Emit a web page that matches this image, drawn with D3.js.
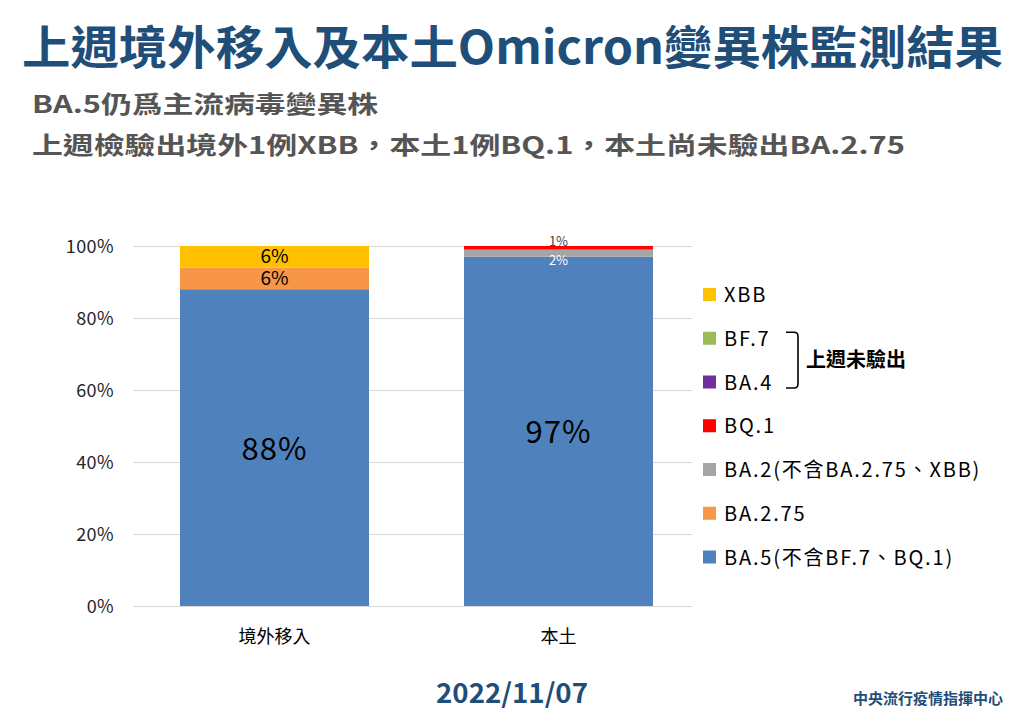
<!DOCTYPE html>
<html>
<head>
<meta charset="utf-8">
<script src="https://cdn.jsdelivr.net/npm/d3@7"></script>
<style>
  html, body { margin: 0; padding: 0; background: #fff; }
  svg { display: block; font-family: "Noto Sans CJK TC", "Noto Sans", sans-serif; }
</style>
</head>
<body>
<svg id="chart" width="1024" height="725"></svg>
<script>
// chart data
const categories = ['境外移入', '本土'];
const seriesNames = ['BA.5(不含BF.7、BQ.1)', 'BA.2.75', 'BA.2(不含BA.2.75、XBB)', 'BQ.1', 'BA.4', 'BF.7', 'XBB'];
const seriesColors = ['#4f81bd', '#f79646', '#a5a5a5', '#ff0000', '#7030a0', '#9bbb59', '#ffc000'];
const ba5 = [88, 97];
const ba275 = [6, 0];
const ba2 = [0, 2];
const bq1 = [0, 1];
const ba4 = [0, 0];
const bf7 = [0, 0];
const xbb = [6, 0];
const yTicks = [0, 20, 40, 60, 80, 100];
const yTickLabels = ['0%', '20%', '40%', '60%', '80%', '100%'];
// legend is listed top to bottom
const legendOrder = ['XBB', 'BF.7', 'BA.4', 'BQ.1', 'BA.2(不含BA.2.75、XBB)', 'BA.2.75', 'BA.5(不含BF.7、BQ.1)'];

const values = [ba5, ba275, ba2, bq1, ba4, bf7, xbb];
const rows = categories.map((c, i) => {
  const r = { cat: c };
  seriesNames.forEach((s, k) => { r[s] = values[k][i]; });
  return r;
});

const svg = d3.select('#chart');
const plot = { left: 133, right: 692, top: 246, bottom: 606 };

const x = d3.scaleBand().domain(categories).range([132.5, 700.5])
  .paddingInner(0.3345).paddingOuter(0.1673);
const y = d3.scaleLinear().domain([0, 100]).range([plot.bottom, plot.top]);

// titles
svg.append('text').attr('x', 22).attr('y', 64)
  .attr('font-size', 46).attr('font-weight', 700).attr('fill', '#1f4e79')
  .attr('textLength', 981).attr('lengthAdjust', 'spacingAndGlyphs')
  .text('上週境外移入及本土Omicron變異株監測結果');
svg.append('text').attr('x', 32).attr('y', 113)
  .attr('font-size', 24).attr('font-weight', 700).attr('fill', '#555555')
  .attr('textLength', 346).attr('lengthAdjust', 'spacingAndGlyphs')
  .text('BA.5仍爲主流病毒變異株');
svg.append('text').attr('x', 32).attr('y', 154)
  .attr('font-size', 24).attr('font-weight', 700).attr('fill', '#555555')
  .attr('textLength', 873).attr('lengthAdjust', 'spacingAndGlyphs')
  .text('上週檢驗出境外1例XBB，本土1例BQ.1，本土尚未驗出BA.2.75');

// gridlines
svg.append('g').selectAll('line').data(yTicks).join('line')
  .attr('x1', plot.left).attr('x2', plot.right)
  .attr('y1', (d) => y(d) + 0.5).attr('y2', (d) => y(d) + 0.5)
  .attr('stroke', '#d9d9d9').attr('stroke-width', 1);

// y axis labels
svg.append('g').selectAll('text').data(yTicks).join('text')
  .attr('x', 114).attr('y', (d) => y(d) + 6.5)
  .attr('text-anchor', 'end').attr('font-size', 18).attr('fill', '#262626')
  .attr('letter-spacing', 0.4)
  .text((d, i) => yTickLabels[i]);

// stacked bars
const stacked = d3.stack().keys(seriesNames)(rows);
const layer = svg.append('g').selectAll('g').data(stacked).join('g')
  .attr('fill', (d, i) => seriesColors[i]);
layer.selectAll('rect').data((d) => d.filter((s) => s[1] - s[0] > 0)).join('rect')
  .attr('x', (d) => x(d.data.cat))
  .attr('width', x.bandwidth())
  .attr('y', (d) => y(d[1]))
  .attr('height', (d) => y(d[0]) - y(d[1]));

// data labels
const labels = [];
stacked.forEach((s, k) => {
  s.forEach((d) => {
    const v = d[1] - d[0];
    if (v <= 0) return;
    labels.push({ key: s.key, v, cat: d.data.cat, y0: d[0], y1: d[1], k });
  });
});
svg.append('g').selectAll('text').data(labels).join('text')
  .attr('x', (d) => x(d.cat) + x.bandwidth() / 2)
  .attr('text-anchor', 'middle')
  .attr('y', (d) => {
    if (d.key === 'BQ.1') return y(d.y1) - 0.5;
    if (d.v < 3) return y(d.y1) + 15;
    const mid = y((d.y0 + d.y1) / 2);
    return d.v > 50 ? mid + 12 : mid + 6.5;
  })
  .attr('font-size', (d) => d.v > 50 ? 31 : d.v < 3 ? 13 : 19)
  .attr('letter-spacing', (d) => d.v > 50 ? 1 : 0)
  .attr('fill', (d) => d.key.startsWith('BA.2(') ? '#ffffff' : d.key === 'BQ.1' ? '#404040' : '#000000')
  .text((d) => d.v + '%');

// category labels
svg.append('g').selectAll('text').data(categories).join('text')
  .attr('x', (d) => x(d) + x.bandwidth() / 2).attr('y', 643)
  .attr('text-anchor', 'middle').attr('font-size', 18).attr('fill', '#000')
  .text((d) => d);

// legend
const lg = svg.append('g').selectAll('g').data(legendOrder).join('g')
  .attr('transform', (d, i) => `translate(703,${294.5 + i * 43.75})`);
lg.append('rect').attr('x', 0).attr('y', -6.5).attr('width', 13).attr('height', 13)
  .attr('fill', (d) => seriesColors[seriesNames.indexOf(d)]);
lg.append('text').attr('x', 21).attr('y', 7.5)
  .attr('font-size', 20).attr('letter-spacing', 1.8).attr('fill', '#000').text((d) => d);

// bracket for the two variants not found last week
const yBF = 294.5 + 43.75, yBA4 = 294.5 + 2 * 43.75;
svg.append('path')
  .attr('d', `M786,${yBF - 6} H794 Q798,${yBF - 6} 798,${yBF - 2} V${yBA4 + 2} Q798,${yBA4 + 6} 794,${yBA4 + 6} H786`)
  .attr('fill', 'none').attr('stroke', '#000').attr('stroke-width', 1.6);
svg.append('text').attr('x', 806).attr('y', (yBF + yBA4) / 2 + 7)
  .attr('font-size', 20).attr('font-weight', 700).attr('fill', '#000')
  .text('上週未驗出');

// footer
svg.append('text').attr('x', 512).attr('y', 703)
  .attr('text-anchor', 'middle').attr('font-size', 27).attr('font-weight', 700).attr('fill', '#1f4e79')
  .attr('textLength', 152).attr('lengthAdjust', 'spacingAndGlyphs')
  .text('2022/11/07');
svg.append('text').attr('x', 1003).attr('y', 704)
  .attr('text-anchor', 'end').attr('font-size', 15).attr('font-weight', 700).attr('fill', '#1f4e79')
  .text('中央流行疫情指揮中心');
</script>
</body>
</html>
